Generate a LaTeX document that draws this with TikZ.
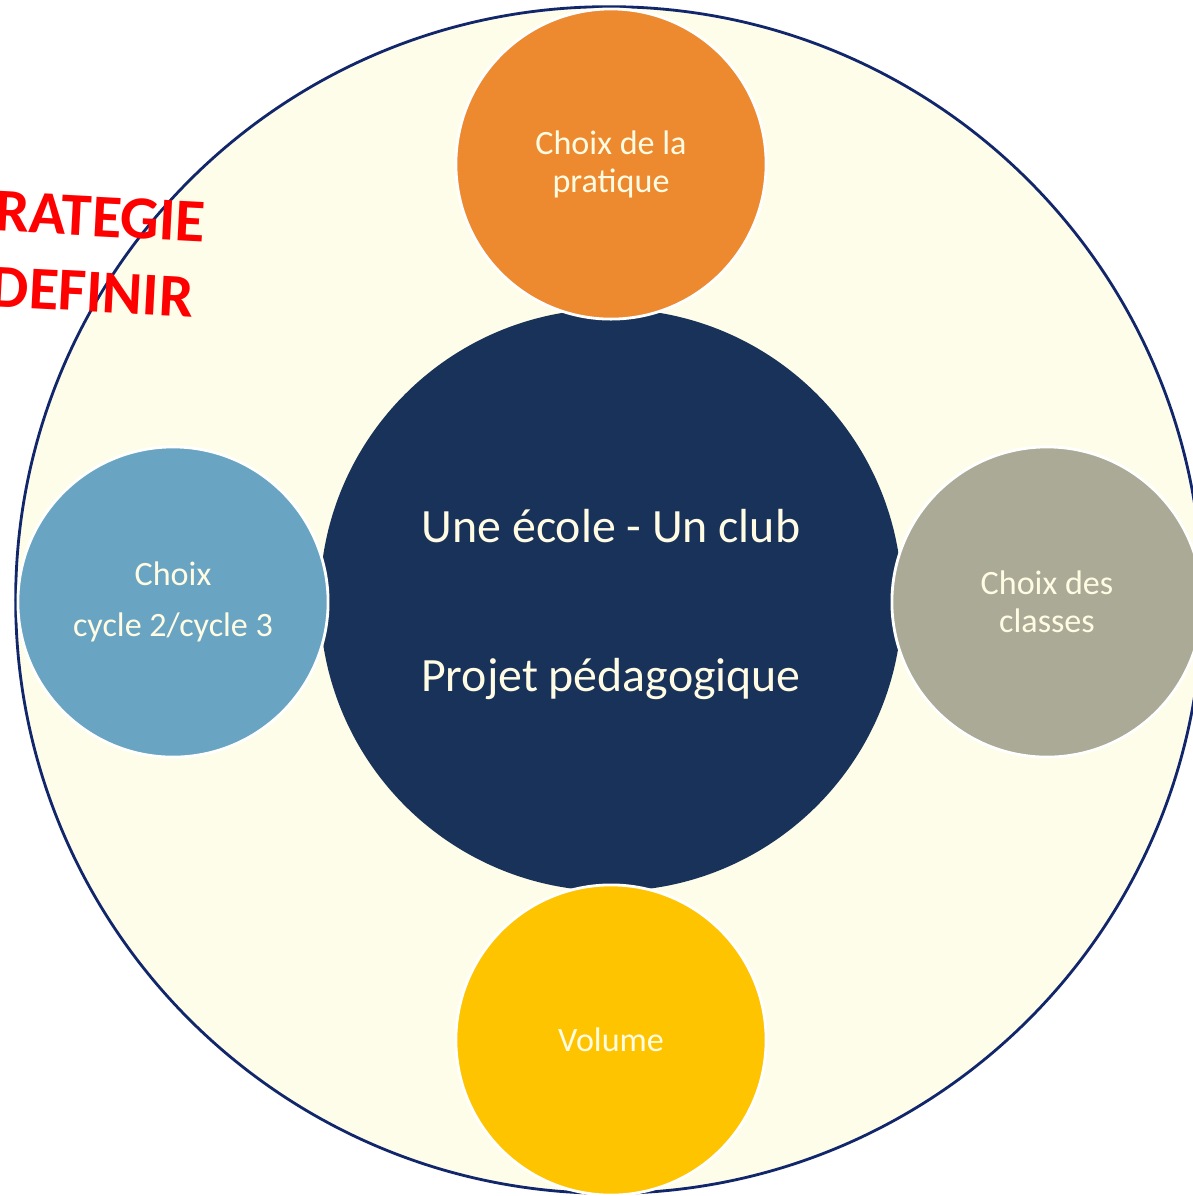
\documentclass[tikz,border=0pt]{standalone}
\usepackage{fontspec}
\setmainfont{Carlito}
\setsansfont{Carlito}
\usepackage{tikz}
\usetikzlibrary{positioning}

\definecolor{navy}{HTML}{18325A}
\definecolor{rim}{HTML}{12276B}
\definecolor{cream}{HTML}{FEFDE9}
\definecolor{ink}{HTML}{FFFCE3}
\definecolor{pratiqueC}{HTML}{ED8A2F}
\definecolor{cycleC}{HTML}{69A5C3}
\definecolor{classesC}{HTML}{ABAA96}
\definecolor{volumeC}{HTML}{FFC400}

\begin{document}
\begin{tikzpicture}[
    x=0.01cm, y=-0.01cm,
    font=\sffamily,
    ring/.style={circle, draw=rim, line width=0.8pt, fill=cream, inner sep=0pt, minimum size=11.86cm},
    hub/.style={circle, fill=navy, text=ink, inner sep=0pt, minimum size=5.82cm, align=center, text depth=0pt, font=\sffamily\fontsize{13.6}{16}\selectfont},
    petal/.style={circle, draw=white, line width=0.8pt, text=ink, inner sep=0pt, minimum size=3.1cm, align=center, font=\sffamily\fontsize{9.7}{10.8}\selectfont},
    banner/.style={anchor=base east, inner sep=0pt, rotate=-3, text=red, font=\sffamily\bfseries\fontsize{17.3}{18}\selectfont}
  ]

  % Frame of the picture
  \useasboundingbox (0,0) rectangle (1193,1196);
  \fill[white] (0,0) rectangle (1193,1196);
  \clip (0,0) rectangle (1193,1196);

  % Outer ring and centre
  \node[ring] (O) at (609,600) {};
  \node[hub] (C) at (611,600) {Une école - Un club\\[26.4pt]Projet pédagogique};

  % Four petals round the centre
  \node[petal, fill=pratiqueC] (N) at (611,164) {Choix de la\\pratique};
  \node[petal, fill=volumeC] (S) at (611,1040) {Volume};
  \node[petal, fill=cycleC, font=\sffamily\fontsize{9.7}{14.5}\selectfont] (W) at (173,602) {Choix\\cycle 2/cycle 3};
  \node[petal, fill=classesC] (E) at (1047,602) {Choix des\\classes};

  % Red note, cut by the left edge
  \node[banner] (T1) at (205,242) {RATEGIE};
  \node[banner] (T2) at (193,317) {DEFINIR};

\end{tikzpicture}
\end{document}
